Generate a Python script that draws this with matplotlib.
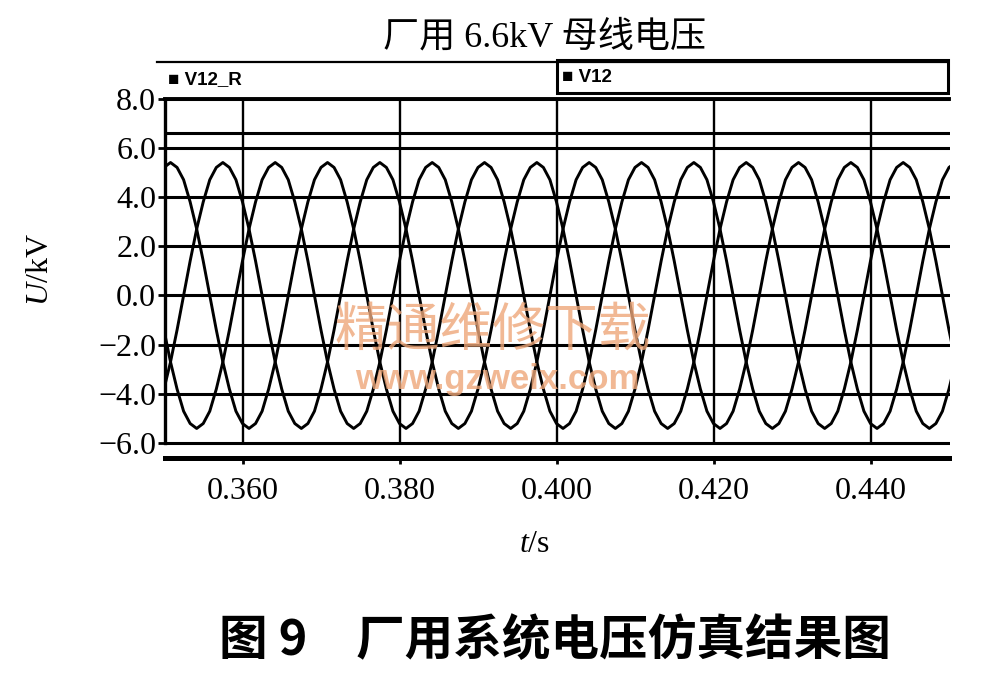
"""Station-service 6.6 kV bus voltage, three phases over 0.35-0.45 s."""

import numpy as np
import matplotlib

matplotlib.use("Agg")
import matplotlib.pyplot as plt
from matplotlib.patches import Rectangle

plt.rcParams["font.family"] = ["Liberation Serif", "Noto Sans CJK SC"]
plt.rcParams["mathtext.fontset"] = "custom"
plt.rcParams["mathtext.rm"] = "Liberation Serif"
plt.rcParams["mathtext.it"] = "Liberation Serif:italic"

# phase voltages (kV) every 15 degrees of the 50 Hz cycle
SAMPLE_START = 0.3491  # s
SAMPLE_STEP = 0.02 / 24  # s

V_A = [
    -4.7, -3.8, -2.7, -1.4, 0.0, 1.4, 2.7, 3.8, 4.7, 5.2,
    5.4, 5.2, 4.7, 3.8, 2.7, 1.4, 0.0, -1.4, -2.7, -3.8, -4.7, -5.2, -5.4, -5.2, -4.7, -3.8, -2.7, -1.4, 0.0, 1.4, 2.7, 3.8, 4.7, 5.2,
    5.4, 5.2, 4.7, 3.8, 2.7, 1.4, 0.0, -1.4, -2.7, -3.8, -4.7, -5.2, -5.4, -5.2, -4.7, -3.8, -2.7, -1.4, 0.0, 1.4, 2.7, 3.8, 4.7, 5.2,
    5.4, 5.2, 4.7, 3.8, 2.7, 1.4, 0.0, -1.4, -2.7, -3.8, -4.7, -5.2, -5.4, -5.2, -4.7, -3.8, -2.7, -1.4, 0.0, 1.4, 2.7, 3.8, 4.7, 5.2,
    5.4, 5.2, 4.7, 3.8, 2.7, 1.4, 0.0, -1.4, -2.7, -3.8, -4.7, -5.2, -5.4, -5.2, -4.7, -3.8, -2.7, -1.4, 0.0, 1.4, 2.7, 3.8, 4.7, 5.2,
    5.4, 5.2, 4.7, 3.8, 2.7, 1.4, 0.0, -1.4, -2.7, -3.8, -4.7, -5.2, -5.4, -5.2, -4.7, -3.8, -2.7,
]
V_B = [
    4.7, 5.2,
    5.4, 5.2, 4.7, 3.8, 2.7, 1.4, 0.0, -1.4, -2.7, -3.8, -4.7, -5.2, -5.4, -5.2, -4.7, -3.8, -2.7, -1.4, 0.0, 1.4, 2.7, 3.8, 4.7, 5.2,
    5.4, 5.2, 4.7, 3.8, 2.7, 1.4, 0.0, -1.4, -2.7, -3.8, -4.7, -5.2, -5.4, -5.2, -4.7, -3.8, -2.7, -1.4, 0.0, 1.4, 2.7, 3.8, 4.7, 5.2,
    5.4, 5.2, 4.7, 3.8, 2.7, 1.4, 0.0, -1.4, -2.7, -3.8, -4.7, -5.2, -5.4, -5.2, -4.7, -3.8, -2.7, -1.4, 0.0, 1.4, 2.7, 3.8, 4.7, 5.2,
    5.4, 5.2, 4.7, 3.8, 2.7, 1.4, 0.0, -1.4, -2.7, -3.8, -4.7, -5.2, -5.4, -5.2, -4.7, -3.8, -2.7, -1.4, 0.0, 1.4, 2.7, 3.8, 4.7, 5.2,
    5.4, 5.2, 4.7, 3.8, 2.7, 1.4, 0.0, -1.4, -2.7, -3.8, -4.7, -5.2, -5.4, -5.2, -4.7, -3.8, -2.7, -1.4, 0.0, 1.4, 2.7, 3.8, 4.7, 5.2,
    5.4,
]
V_C = [
    0.0, -1.4, -2.7, -3.8, -4.7, -5.2, -5.4, -5.2, -4.7, -3.8, -2.7, -1.4, 0.0, 1.4, 2.7, 3.8, 4.7, 5.2,
    5.4, 5.2, 4.7, 3.8, 2.7, 1.4, 0.0, -1.4, -2.7, -3.8, -4.7, -5.2, -5.4, -5.2, -4.7, -3.8, -2.7, -1.4, 0.0, 1.4, 2.7, 3.8, 4.7, 5.2,
    5.4, 5.2, 4.7, 3.8, 2.7, 1.4, 0.0, -1.4, -2.7, -3.8, -4.7, -5.2, -5.4, -5.2, -4.7, -3.8, -2.7, -1.4, 0.0, 1.4, 2.7, 3.8, 4.7, 5.2,
    5.4, 5.2, 4.7, 3.8, 2.7, 1.4, 0.0, -1.4, -2.7, -3.8, -4.7, -5.2, -5.4, -5.2, -4.7, -3.8, -2.7, -1.4, 0.0, 1.4, 2.7, 3.8, 4.7, 5.2,
    5.4, 5.2, 4.7, 3.8, 2.7, 1.4, 0.0, -1.4, -2.7, -3.8, -4.7, -5.2, -5.4, -5.2, -4.7, -3.8, -2.7, -1.4, 0.0, 1.4, 2.7, 3.8, 4.7, 5.2,
    5.4, 5.2, 4.7, 3.8, 2.7, 1.4, 0.0, -1.4, -2.7,
]
RATED_KV = 6.6

X_TICKS = [0.36, 0.38, 0.40, 0.42, 0.44]
Y_TICKS = [-6.0, -4.0, -2.0, 0.0, 2.0, 4.0, 6.0, 8.0]
LEGEND_LABELS = ["V12_R", "V12"]

TITLE = "厂用 6.6kV 母线电压"
CAPTION = "图 9\u3000厂用系统电压仿真结果图"
WATERMARK = "精通维修下载"
WATERMARK_URL = "www.gzweix.com"

W, H = 990, 692


def fx(px):
    return px / W


def fy(py):
    return 1 - py / H


fig = plt.figure(figsize=(W / 100, H / 100), dpi=100)
ax = fig.add_axes([fx(164.5), fy(458), fx(949.5) - fx(164.5), fy(98.5) - fy(458)])
ax.set_xlim(0.35, 0.45)
ax.set_ylim(-6.6, 8.0)

for y in Y_TICKS + [RATED_KV]:
    ax.axhline(y, color="black", lw=2.2, zorder=1)
ax.vlines(X_TICKS, -6.0, 8.0, color="black", lw=1.7, zorder=1)

t = SAMPLE_START + SAMPLE_STEP * np.arange(len(V_A))
for series in (V_A, V_B, V_C):
    ax.plot(t, series, color="black", lw=2.1, solid_joinstyle="round", zorder=3)

ax.spines["right"].set_visible(False)
ax.spines["top"].set_linewidth(2.8)
ax.spines["left"].set_linewidth(2.4)
ax.spines["left"].set_bounds(-6.0, 8.0)
ax.spines["bottom"].set_linewidth(3.6)

ax.set_xticks(X_TICKS, labels=[f"{v:.3f}" for v in X_TICKS])
ax.set_yticks(Y_TICKS, labels=[f"{v:.1f}".replace("-", "\u2212") for v in Y_TICKS])
ax.tick_params(axis="y", direction="out", length=5, width=2, labelsize=23, pad=1)
ax.tick_params(axis="x", direction="out", length=4, width=2, labelsize=23, pad=10)

# overlay in pixel coordinates for the header strip and captions
ov = fig.add_axes([0, 0, 1, 1])
ov.set_xlim(0, W)
ov.set_ylim(H, 0)
ov.axis("off")

ov.plot([157, 948], [62, 62], color="black", lw=1.6)
ov.add_patch(Rectangle((557, 60), 391, 33, fill=False, edgecolor="black", lw=2.2))
ov.text(168, 80, "\u25a0 " + LEGEND_LABELS[0], ha="left", va="center", fontsize=13.5,
        fontweight="bold", family="Liberation Sans")
ov.text(562, 78, "\u25a0 " + LEGEND_LABELS[1], ha="left", va="center", fontsize=13.5,
        fontweight="bold", family="Liberation Sans")

ov.text(545, 38, TITLE, ha="center", va="center", fontsize=26)
ov.text(40, 270, "$U$/kV", ha="center", va="center", rotation=90, fontsize=23)
ov.text(535, 545, "$t$/s", ha="center", va="center", fontsize=23)
ov.text(555, 641, CAPTION, ha="center", va="center", fontsize=35, fontweight="bold",
        family="Noto Sans CJK SC")

ov.text(493, 330, WATERMARK, ha="center", va="center", fontsize=38, color="#eea77a",
        alpha=0.8, family="Noto Sans CJK SC", zorder=5)
ov.text(497, 379, WATERMARK_URL, ha="center", va="center", fontsize=25, color="#eea77a",
        alpha=0.8, fontweight="bold", family="Liberation Sans", zorder=5)

fig.savefig("out.png", dpi=100)
